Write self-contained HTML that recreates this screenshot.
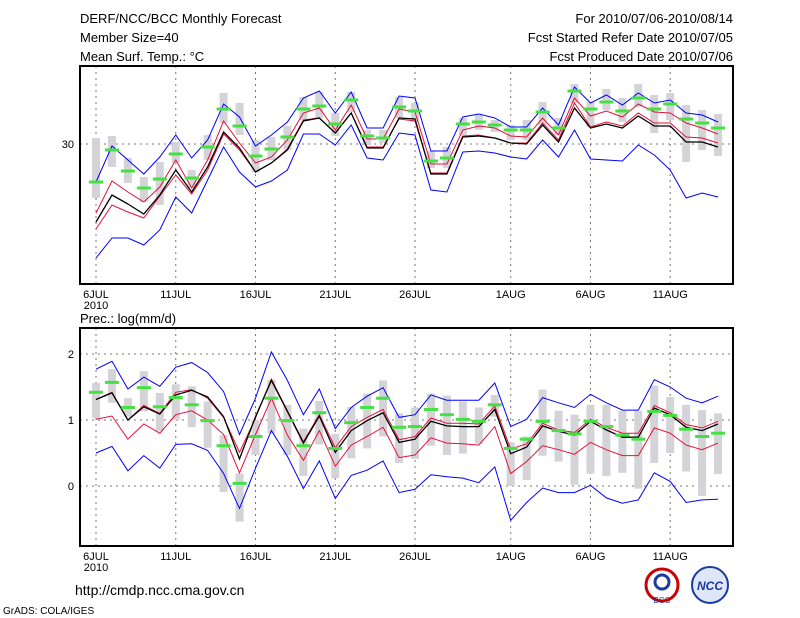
<!DOCTYPE html>
<html><head><meta charset="utf-8"><style>
body{margin:0;background:#fff;}
svg{display:block;font-family:"Liberation Sans",sans-serif;}
</style></head><body>
<svg id="c" width="800" height="618" viewBox="0 0 800 618">
<rect width="800" height="618" fill="#fff"/>
<text x="80" y="23" font-size="13">DERF/NCC/BCC Monthly Forecast</text>
<text x="80" y="42" font-size="13">Member Size=40</text>
<text x="80" y="61" font-size="13">Mean Surf. Temp.: °C</text>
<text x="733" y="23" font-size="13" text-anchor="end">For 2010/07/06-2010/08/14</text>
<text x="733" y="42" font-size="13" text-anchor="end">Fcst Started Refer Date 2010/07/05</text>
<text x="733" y="61" font-size="13" text-anchor="end">Fcst Produced Date 2010/07/06</text>
<text x="80" y="323" font-size="13">Prec.: log(mm/d)</text>
<text x="75" y="595" font-size="14">http://cmdp.ncc.cma.gov.cn</text>
<text x="3" y="614" font-size="10">GrADS: COLA/IGES</text>
<g>
<circle cx="662" cy="585" r="16" fill="#fff" stroke="#c00" stroke-width="3"/>
<circle cx="662" cy="582" r="7" fill="none" stroke="#1a3aa0" stroke-width="3"/>
<text x="662" y="603" font-size="8" text-anchor="middle" fill="#1a3aa0">BCC</text>
</g>
<g>
<circle cx="710" cy="585" r="18" fill="#dfe6f7" stroke="#1a3aa0" stroke-width="2"/>
<text x="710" y="590" font-size="12" font-style="italic" font-weight="bold" text-anchor="middle" fill="#1a3aa0">NCC</text>
</g>
<g id="g"></g>
</svg>
<script>
// day index 0..39 = 6JUL..14AUG
const dateLabels = ["6JUL","11JUL","16JUL","21JUL","26JUL","1AUG","6AUG","11AUG"];
const dateIdx = [0,5,10,15,20,26,31,36];
// temperature panel (°C)
const tBlueTop = [26.2,29.8,28.4,27.0,28.7,30.9,28.6,30.4,34.0,32.7,29.8,30.9,32.2,34.6,35.3,33.1,35.2,31.6,31.6,34.8,34.6,29.3,29.3,32.7,33.0,32.6,31.7,31.7,33.6,31.9,35.7,34.1,34.9,33.9,35.1,34.1,34.4,33.1,32.9,32.2];
const tRedTop = [23.1,26.3,25.2,24.2,25.7,28.4,25.6,28.4,32.3,30.1,28.1,28.7,30.4,33.1,33.6,31.4,33.9,30.5,30.5,33.5,33.2,28.0,28.0,31.4,31.8,31.6,30.8,30.7,32.6,30.9,34.6,32.8,33.3,32.7,34.0,33.2,33.1,32.1,31.6,31.0];
const tMean = [22.2,24.9,24.0,23.0,24.9,27.4,25.2,27.7,31.2,29.6,27.2,28.1,29.4,32.3,32.6,31.1,33.1,29.6,29.6,32.6,32.5,27.0,27.0,30.7,30.8,30.6,30.1,30.0,31.9,30.2,33.6,31.6,32.0,31.6,32.8,31.8,31.8,30.2,30.2,29.7];
const tRedBot = [21.5,23.9,23.2,22.6,24.8,26.9,25.0,27.4,31.0,29.4,27.2,28.1,29.5,32.4,32.6,31.1,33.1,29.7,29.7,32.5,32.3,27.1,27.1,30.8,30.9,30.6,30.1,30.1,32.1,30.4,34.1,31.7,32.2,31.8,33.1,32.1,32.1,30.7,30.6,30.1];
const tBlueBot = [18.6,20.6,20.6,19.9,21.4,24.7,23.1,26.4,29.7,27.2,25.7,26.3,27.4,31.0,31.0,29.9,31.9,28.6,28.4,31.1,30.9,25.4,25.2,29.2,29.3,29.1,28.7,28.5,30.4,28.7,31.4,28.5,28.4,28.3,29.9,28.9,27.4,24.6,25.1,24.7];
const tObs = [26.2,29.4,27.3,25.6,26.5,29.0,26.6,29.7,33.5,31.8,28.8,29.5,30.7,33.5,33.8,32.0,34.4,30.8,30.6,33.7,33.3,28.3,28.6,32.0,32.2,31.9,31.4,31.4,33.2,31.6,35.3,33.5,34.2,33.3,34.6,33.5,34.0,32.5,32.1,31.6];
const tBoxHi = [30.6,30.8,28.6,26.7,28.2,30.2,27.4,30.9,35.1,34.1,30.4,30.7,31.8,34.7,35.2,33.1,35.2,31.4,31.4,34.7,34.1,29.3,29.7,32.6,32.9,32.4,31.9,32.4,34.2,32.6,36.0,34.2,35.5,34.6,36.0,34.9,35.1,33.9,33.4,33.0];
const tBoxLo = [24.6,27.7,26.1,24.2,23.9,28.1,25.6,28.4,32.1,30.9,27.2,28.4,29.4,32.4,32.6,30.8,33.2,29.9,30.1,32.6,32.2,27.6,27.6,30.9,31.4,31.2,30.4,30.4,31.9,30.9,34.1,31.7,33.4,32.2,33.7,31.1,32.4,28.2,29.4,28.8];
const tTicks = [30];
// precipitation panel log(mm/d)
const pBlueTop = [1.77,1.89,1.47,1.65,1.51,1.8,1.87,1.72,1.43,0.78,1.33,2.03,1.6,1.08,1.47,0.87,1.19,1.36,1.49,1.04,1.08,1.38,1.30,1.30,1.30,1.56,0.9,1.01,1.34,1.26,1.19,1.39,1.26,1.15,1.15,1.61,1.5,1.33,1.26,1.36];
const pRedTop = [1.31,1.42,1.0,1.22,1.1,1.42,1.46,1.33,1.04,0.51,1.03,1.62,1.14,0.67,1.08,0.58,0.9,1.04,1.16,0.7,0.75,1.03,0.95,0.95,0.94,1.21,0.56,0.64,0.95,0.85,0.81,1.01,0.89,0.8,0.8,1.22,1.11,0.93,0.88,0.98];
const pMean = [1.31,1.41,1.0,1.2,1.09,1.38,1.45,1.35,1.05,0.41,1.05,1.6,1.13,0.65,1.06,0.51,0.84,0.99,1.11,0.66,0.71,0.98,0.91,0.9,0.9,1.16,0.49,0.59,0.91,0.83,0.77,0.98,0.85,0.74,0.74,1.18,1.08,0.89,0.84,0.94];
const pRedBot = [1.01,1.06,0.71,0.94,0.8,1.08,1.14,1.0,0.78,0.2,0.78,1.33,0.77,0.39,0.84,0.3,0.62,0.75,0.89,0.43,0.47,0.73,0.65,0.64,0.62,0.9,0.19,0.37,0.61,0.55,0.48,0.66,0.55,0.46,0.46,0.88,0.8,0.62,0.55,0.65];
const pBlueBot = [0.5,0.6,0.23,0.46,0.27,0.63,0.64,0.54,0.19,-0.34,0.27,0.84,0.45,-0.04,0.38,-0.19,0.16,0.24,0.38,-0.1,-0.05,0.17,0.14,0.12,0.05,0.29,-0.52,-0.25,-0.03,-0.1,-0.1,0.01,-0.18,-0.26,-0.21,0.2,0.07,-0.25,-0.21,-0.2];
const pObs = [1.42,1.57,1.19,1.49,1.2,1.34,1.23,0.99,0.61,0.04,0.75,1.33,0.99,0.61,1.11,0.57,0.96,1.19,1.33,0.89,0.9,1.16,1.08,1.01,0.98,1.23,0.57,0.71,0.98,0.84,0.79,0.98,0.9,0.77,0.71,1.13,1.07,0.86,0.75,0.8];
const pBoxHi = [1.56,1.77,1.33,1.74,1.41,1.54,1.51,1.28,0.77,0.19,1.0,1.61,1.23,0.87,1.29,0.79,1.2,1.40,1.6,1.1,1.19,1.40,1.37,1.28,1.19,1.38,0.66,0.75,1.46,1.14,1.08,1.23,1.23,1.14,1.14,1.52,1.35,1.23,1.15,1.10];
const pBoxLo = [1.03,1.26,1.05,1.13,0.83,1.0,0.89,0.58,-0.09,-0.54,0.47,0.8,0.47,0.15,0.63,0.12,0.42,0.57,0.75,0.35,0.41,0.61,0.47,0.49,0.64,1.05,0.0,0.09,0.46,0.37,0.02,0.19,0.15,0.2,-0.04,0.35,0.5,0.22,-0.15,0.18];
const pTicks = [0,1,2];

const NS="http://www.w3.org/2000/svg";
const G=document.getElementById('g');
function X(i){return 96+i*15.95;}
function mk(tag,attrs,parent){const e=document.createElementNS(NS,tag);for(const k in attrs)e.setAttribute(k,attrs[k]);(parent||G).appendChild(e);return e;}

function panel(name,top,bottom,Y,ticks,series,obs,hi,lo){
  const g=mk('g',{});
  
  
  // grid
  dateIdx.forEach((d,k)=>{
    const l=mk('line',{x1:X(d),x2:X(d),y1:top,y2:bottom,stroke:'#777','stroke-width':1,'stroke-dasharray':'2,4'},g);
    
    
    const t=mk('text',{x:X(d),y:bottom+14,'font-size':11,'text-anchor':'middle'},g);
    t.textContent=dateLabels[k];
    
    
  });
  const yr=mk('text',{x:X(0),y:bottom+25,'font-size':11,'text-anchor':'middle'},g);
  yr.textContent='2010';
  
  
  ticks.forEach(v=>{
    const l=mk('line',{x1:80,x2:733,y1:Y(v),y2:Y(v),stroke:'#777','stroke-width':1,'stroke-dasharray':'2,4'},g);
    
    
    const t=mk('text',{x:74,y:Y(v)+4,'font-size':11,'text-anchor':'end'},g);
    t.textContent=String(v);
    
    
  });
  // boxes
  hi.forEach((h,i)=>{
    const y1=Y(h),y2=Y(lo[i]);
    const r=mk('rect',{x:X(i)-4,y:Math.min(y1,y2),width:8,height:Math.abs(y2-y1),fill:'#d3d3d8'},g);
    
    
  });
  series.forEach(s=>{
    const p=mk('polyline',{points:s.d.map((v,i)=>X(i).toFixed(1)+','+Y(v).toFixed(1)).join(' '),fill:'none',stroke:s.c,'stroke-width':s.w},g);
    
    
  });
  obs.forEach((v,i)=>{
    const r=mk('rect',{x:X(i)-7,y:Y(v)-1.5,width:14,height:3,fill:'#44e044'},g);
    
    
  });
  const f=mk('rect',{x:80,y:top,width:653,height:bottom-top,fill:'none',stroke:'#000','stroke-width':2},g);
  
  
}
const YT=v=>144-(v-30)*10;
const YP=v=>486-v*66;
panel('temperature-panel',66,284,YT,tTicks,[
 {d:tBlueTop,c:'#0000ff',w:1,n:'temp-upper-bound-line'},
 {d:tBlueBot,c:'#0000ff',w:1,n:'temp-lower-bound-line'},
 {d:tRedTop,c:'#e8103a',w:1,n:'temp-upper-sd-line'},
 {d:tRedBot,c:'#e8103a',w:1,n:'temp-lower-sd-line'},
 {d:tMean,c:'#000',w:1.3,n:'temp-ensemble-mean-line'}],tObs,tBoxHi,tBoxLo);
panel('precip-panel',328,546,YP,pTicks,[
 {d:pBlueTop,c:'#0000ff',w:1,n:'precip-upper-bound-line'},
 {d:pBlueBot,c:'#0000ff',w:1,n:'precip-lower-bound-line'},
 {d:pRedTop,c:'#e8103a',w:1,n:'precip-upper-sd-line'},
 {d:pRedBot,c:'#e8103a',w:1,n:'precip-lower-sd-line'},
 {d:pMean,c:'#000',w:1.3,n:'precip-ensemble-mean-line'}],pObs,pBoxHi,pBoxLo);
</script>
</body></html>
